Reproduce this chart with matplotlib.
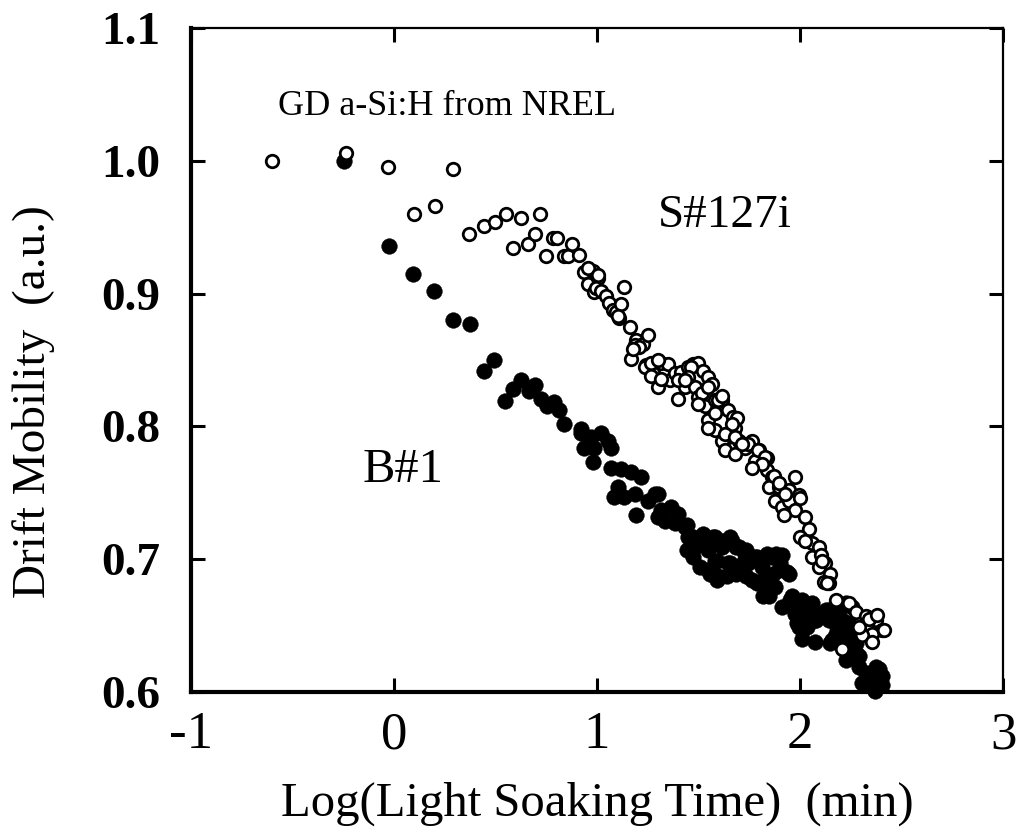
import matplotlib
matplotlib.use("Agg")
import matplotlib.pyplot as plt

# S#127i (open circles)
s127_x = [-0.602, -0.239, -0.030, 0.289, 0.096, 0.200, 0.371, 0.442, 0.495, 0.550,
          0.624, 0.719, 0.588, 0.660, 0.695, 0.749, 0.784, 0.805, 0.835, 0.855,
          0.875, 0.912, 0.937, 0.979, 0.954, 0.987, 0.954, 1.003, 0.995, 1.020,
          1.045, 1.061, 1.078, 1.094, 1.110, 1.119, 1.135, 1.160, 1.193, 1.226,
          1.251, 1.168, 1.185, 1.243, 1.276, 1.301, 1.317, 1.350, 1.358, 1.383,
          1.416, 1.449, 1.474, 1.499, 1.523, 1.548, 1.564, 1.400, 1.432, 1.482,
          1.499, 1.532, 1.548, 1.581, 1.614, 1.647, 1.672, 1.680, 1.647, 1.614,
          1.581, 1.697, 1.729, 1.762, 1.796, 1.820, 1.779, 1.837, 1.861, 1.878,
          1.911, 1.944, 1.977, 1.994, 1.630, 1.680, 1.746, 1.837, 1.845, 1.895,
          1.878, 1.911, 1.944, 1.977, 1.919, 2.026, 2.043, 2.002, 2.059, 2.092,
          2.059, 2.101, 2.125, 2.092, 2.150, 2.117, 2.142, 2.175, 2.241, 2.274,
          2.323, 2.373, 2.406, 2.356, 2.307, 2.356, 2.290, 2.208,
          1.209, 1.177, 1.234, 1.267, 1.300, 1.267, 1.300, 1.317, 1.399, 1.465,
          1.449, 1.515, 1.548, 1.581, 1.498, 1.003, 1.102, 1.432, 1.597, 1.614,
          1.688, 1.663, 1.548, 1.630, 1.680, 1.713, 1.795, 1.828, 1.812, 1.762,
          1.870, 1.894, 1.927, 2.002, 2.026, 2.109, 2.340, 2.381, 2.414, 2.134]
s127_y = [1.000, 1.006, 0.995, 0.994, 0.960, 0.966, 0.945, 0.951, 0.954, 0.960,
          0.957, 0.960, 0.934, 0.937, 0.945, 0.928, 0.942, 0.942, 0.928, 0.928,
          0.937, 0.929, 0.916, 0.917, 0.907, 0.901, 0.919, 0.912, 0.904, 0.902,
          0.898, 0.893, 0.888, 0.886, 0.882, 0.892, 0.905, 0.875, 0.865, 0.862,
          0.869, 0.851, 0.861, 0.846, 0.840, 0.835, 0.848, 0.847, 0.835, 0.840,
          0.841, 0.845, 0.847, 0.848, 0.842, 0.837, 0.832, 0.821, 0.830, 0.830,
          0.822, 0.815, 0.805, 0.810, 0.820, 0.812, 0.807, 0.799, 0.792, 0.789,
          0.797, 0.789, 0.784, 0.789, 0.782, 0.777, 0.774, 0.767, 0.762, 0.754,
          0.751, 0.752, 0.762, 0.748, 0.782, 0.779, 0.787, 0.776, 0.754, 0.754,
          0.744, 0.739, 0.744, 0.737, 0.733, 0.732, 0.723, 0.717, 0.712, 0.709,
          0.702, 0.703, 0.697, 0.694, 0.689, 0.683, 0.682, 0.669, 0.667, 0.660,
          0.657, 0.654, 0.647, 0.644, 0.643, 0.638, 0.649, 0.632,
          0.860, 0.858, 0.845, 0.848, 0.850, 0.838, 0.830, 0.836, 0.835, 0.845,
          0.837, 0.825, 0.830, 0.820, 0.817, 0.914, 0.883, 0.835, 0.820, 0.823,
          0.806, 0.802, 0.799, 0.794, 0.792, 0.787, 0.782, 0.777, 0.772, 0.769,
          0.763, 0.757, 0.749, 0.746, 0.714, 0.699, 0.655, 0.658, 0.647, 0.682]

# B#1 (filled circles)
b1_x = [-0.246, -0.026, 0.094, 0.196, 0.289, 0.375, 0.492, 0.442, 0.624, 0.588,
        0.665, 0.695, 0.546, 0.723, 0.756, 0.789, 0.813, 0.835, 0.921, 0.921,
        0.970, 1.020, 1.053, 1.069, 0.937, 0.987, 0.979, 1.069, 1.119, 1.168,
        1.218, 1.102, 1.085, 1.135, 1.185, 1.193, 1.251, 1.301, 1.317, 1.366,
        1.400, 1.333, 1.383, 1.432, 1.449, 1.482, 1.515, 1.548, 1.581, 1.614,
        1.581, 1.548, 1.598, 1.647, 1.663, 1.697, 1.729, 1.746, 1.779, 1.812,
        1.713, 1.762, 1.820, 1.861, 1.911, 1.895, 1.944, 1.845, 1.878, 1.960,
        2.010, 2.059, 1.911, 1.977, 2.043, 1.994, 2.076, 2.109, 2.142, 2.175,
        2.208, 2.241, 2.175, 2.224, 2.249, 2.224, 2.274, 2.290, 2.323, 2.373,
        2.406, 2.356, 2.307, 2.010, 2.076, 2.150, 2.208, 2.371,
        1.441, 1.474, 1.523, 1.572, 1.621, 1.654, 1.687, 1.736, 1.786, 1.835,
        1.884, 1.901, 1.934, 1.868, 1.819, 1.786, 1.736, 1.687, 1.638, 1.589,
        1.556, 1.507, 1.474, 1.441, 1.589, 1.654, 1.720, 1.819, 1.852, 1.950,
        2.000, 2.099, 1.983, 2.032, 2.081, 2.130, 2.180, 1.284, 1.300, 1.465,
        2.192, 2.224, 2.257, 2.142, 2.192, 2.241, 2.158, 2.257, 2.274, 2.290,
        2.340, 2.389, 2.356, 2.406]
b1_y = [1.000, 0.936, 0.915, 0.902, 0.880, 0.877, 0.850, 0.842, 0.835, 0.828,
        0.827, 0.831, 0.819, 0.821, 0.815, 0.818, 0.812, 0.802, 0.798, 0.795,
        0.792, 0.795, 0.789, 0.784, 0.784, 0.784, 0.773, 0.769, 0.768, 0.766,
        0.762, 0.754, 0.747, 0.747, 0.749, 0.733, 0.744, 0.749, 0.737, 0.739,
        0.734, 0.729, 0.727, 0.724, 0.717, 0.709, 0.714, 0.707, 0.717, 0.709,
        0.699, 0.692, 0.687, 0.697, 0.714, 0.709, 0.704, 0.697, 0.702, 0.694,
        0.692, 0.684, 0.683, 0.702, 0.703, 0.692, 0.689, 0.672, 0.679, 0.672,
        0.669, 0.667, 0.664, 0.659, 0.657, 0.649, 0.654, 0.659, 0.662, 0.657,
        0.654, 0.649, 0.644, 0.639, 0.632, 0.624, 0.629, 0.619, 0.614, 0.619,
        0.612, 0.607, 0.607, 0.640, 0.638, 0.637, 0.644, 0.601,
        0.726, 0.717, 0.719, 0.717, 0.714, 0.717, 0.709, 0.707, 0.702, 0.704,
        0.704, 0.697, 0.690, 0.689, 0.684, 0.682, 0.687, 0.689, 0.687, 0.684,
        0.689, 0.694, 0.702, 0.707, 0.699, 0.697, 0.697, 0.672, 0.679, 0.669,
        0.662, 0.659, 0.652, 0.649, 0.654, 0.662, 0.649, 0.749, 0.732, 0.717,
        0.662, 0.667, 0.664, 0.654, 0.649, 0.652, 0.639, 0.644, 0.637, 0.627,
        0.612, 0.617, 0.604, 0.605]

x_ticks = [-1, 0, 1, 2, 3]
y_ticks = [0.6, 0.7, 0.8, 0.9, 1.0, 1.1]
y_tick_labels = ["0.6", "0.7", "0.8", "0.9", "1.0", "1.1"]

serif = ["Liberation Serif", "DejaVu Serif"]

fig = plt.figure(figsize=(10.21, 8.32), dpi=100)
ax = fig.add_axes([0.1871, 0.1683, 0.9824 - 0.1871, 0.9663 - 0.1683])

ax.plot(s127_x, s127_y, linestyle="none", marker="o", markersize=9.0,
        markerfacecolor="white", markeredgecolor="black", markeredgewidth=2.0,
        clip_on=False, zorder=3)
ax.plot(b1_x, b1_y, linestyle="none", marker="o", markersize=11.3,
        markerfacecolor="black", markeredgecolor="black", markeredgewidth=0.3,
        clip_on=False, zorder=2)

ax.set_xlim(-1, 3)
ax.set_ylim(0.6, 1.1)
ax.set_xticks(x_ticks)
ax.set_xticklabels([str(v) for v in x_ticks], family=serif, fontsize=38)
ax.set_yticks(y_ticks)
ax.set_yticklabels(y_tick_labels, family=serif, fontsize=34, fontweight="bold")

ax.tick_params(direction="in", length=10, width=2.2, top=True, right=True)
ax.tick_params(axis="x", pad=14)
ax.tick_params(axis="y", pad=22)

for side in ["left", "bottom"]:
    ax.spines[side].set_linewidth(3.0)
for side in ["top", "right"]:
    ax.spines[side].set_linewidth(1.6)

ax.set_xlabel("Log(Light Soaking Time)  (min)", family=serif, fontsize=35, labelpad=16)
ax.set_ylabel("Drift Mobility  (a.u.)", family=serif, fontsize=34)
ax.yaxis.set_label_coords(-0.168, 0.437)

ax.text(-0.571, 1.041, "GD a-Si:H from NREL", family=serif, fontsize=26,
        va="center", ha="left")
ax.text(1.30, 0.959, "S#127i", family=serif, fontsize=34, va="center", ha="left")
ax.text(-0.153, 0.767, "B#1", family=serif, fontsize=35, va="center", ha="left")

fig.savefig("out.png", dpi=100)
